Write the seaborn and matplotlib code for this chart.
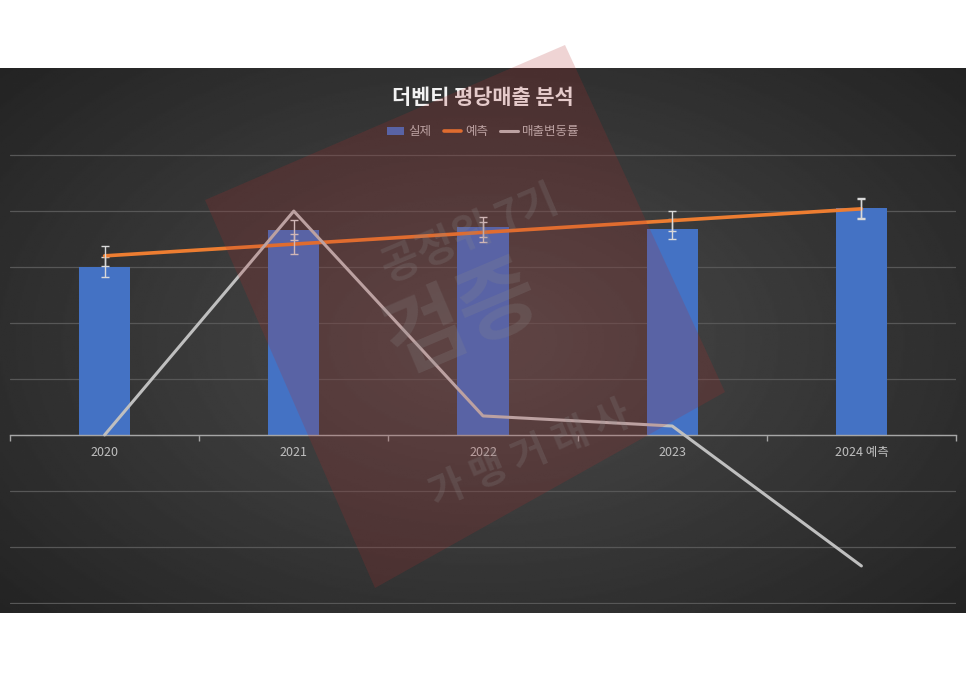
import numpy as np
import matplotlib.pyplot as plt
import seaborn as sns
from matplotlib.patches import Polygon, Patch
from matplotlib.lines import Line2D

sns.set_theme(style="dark")
plt.rcParams['font.family'] = ['Noto Sans CJK KR', 'DejaVu Sans']

# data (grid step = 1 unit, no value labels shown)
years = ["2020", "2021", "2022", "2023", "2024 예측"]
actual = [3.00, 3.66, 3.71, 3.68, 4.05]
forecast = [3.20, 3.41, 3.62, 3.83, 4.04]
change_rate = [0.00, 4.00, 0.34, 0.16, -2.34]
err_size = 0.18

W, H = 966, 683
fig = plt.figure(figsize=(W / 100, H / 100), dpi=100)
fig.patch.set_facecolor("white")

# dark panel with radial gradient
bg = fig.add_axes([0, 1 - 613 / H, 1, (613 - 68) / H], zorder=0)
yy, xx = np.mgrid[-1:1:300j, -1:1:500j]
r = np.sqrt(xx ** 2 + (yy * 0.9) ** 2)
bg.imshow(0.30 - 0.12 * np.clip(r, 0, 1.4), cmap="gray", vmin=0, vmax=1,
          aspect="auto", extent=[0, 1, 0, 1])
bg.set_axis_off()

ax = fig.add_axes([10 / W, 1 - 604 / H, 946 / W, 450 / H], zorder=1)
ax.patch.set_alpha(0)

sns.barplot(x=years, y=actual, color="#4472C4", width=0.27, saturation=1,
            errorbar=None, linewidth=0, edgecolor="none", ax=ax, zorder=2)
x = np.arange(len(years))
ax.errorbar(x, actual, yerr=err_size, fmt="none", ecolor="#d9d9d9",
            elinewidth=1, capsize=3, capthick=1, zorder=3)
sns.lineplot(x=x, y=forecast, color="#ED7D31", linewidth=2.6, ax=ax, zorder=4)
ax.errorbar(x, forecast, yerr=err_size, fmt="none", ecolor="#d9d9d9",
            elinewidth=1, capsize=3, capthick=1, zorder=5)
sns.lineplot(x=x, y=change_rate, color="#bfbfbf", linewidth=2.2, ax=ax, zorder=4)

ax.set_xlim(-0.5, len(years) - 0.5)
ax.set_ylim(-3.02, 5.02)
ax.set_yticks(range(-3, 6))
ax.set_yticklabels([])
ax.tick_params(axis="y", length=0)
ax.grid(axis="y", color="#575757", linewidth=0.9)
ax.grid(axis="x", visible=False)
for s in ["top", "left", "right"]:
    ax.spines[s].set_visible(False)
ax.spines["bottom"].set_position(("data", 0))
ax.spines["bottom"].set_color("#a6a6a6")
ax.spines["bottom"].set_linewidth(1)
ax.set_xticks(x)
ax.set_xticklabels(years, color="#bfbfbf", fontsize=9)
ax.set_xticks(np.arange(-0.5, len(years)), minor=True)
ax.tick_params(axis="x", which="major", length=0, pad=8)
ax.tick_params(axis="x", which="minor", length=4, width=1, color="#a6a6a6",
               direction="out", bottom=True)
ax.set_xlabel("")
ax.set_ylabel("")

fig.text(0.5, 1 - 97 / H, "더벤티 평당매출 분석", ha="center", va="center",
         color="#f2f2f2", fontsize=15, fontweight="bold")
handles = [Patch(facecolor="#4472C4", edgecolor="none", label="실제"),
           Line2D([], [], color="#ED7D31", linewidth=2.6, label="예측"),
           Line2D([], [], color="#bfbfbf", linewidth=2.2, label="매출변동률")]
leg = fig.legend(handles=handles, loc="center", bbox_to_anchor=(0.5, 1 - 132 / H),
                 ncol=3, frameon=False, fontsize=9, handlelength=1.4,
                 handleheight=0.6, handletextpad=0.3, columnspacing=1.0)
for t in leg.get_texts():
    t.set_color("#bfbfbf")

# stamp watermark on top
wm = fig.add_axes([0, 0, 1, 1], zorder=10)
wm.set_xlim(0, W)
wm.set_ylim(H, 0)
wm.set_axis_off()
wm.patch.set_alpha(0)
wm.add_patch(Polygon([[205, 200], [565, 45], [725, 392], [375, 588]],
                     closed=True, facecolor="#b02a2a", alpha=0.2, edgecolor="none"))
wm.text(470, 235, "공정위 7기", rotation=23, ha="center", va="center",
        fontsize=30, color="#8a8a8a", alpha=0.22, fontweight="bold")
wm.text(462, 318, "검증", rotation=23, ha="center", va="center",
        fontsize=62, color="#8a8a8a", alpha=0.22, fontweight="bold")
wm.text(530, 455, "가 맹 거 래 사", rotation=23, ha="center", va="center",
        fontsize=28, color="#8a8a8a", alpha=0.22, fontweight="bold")

fig.savefig("out.png", dpi=100)
